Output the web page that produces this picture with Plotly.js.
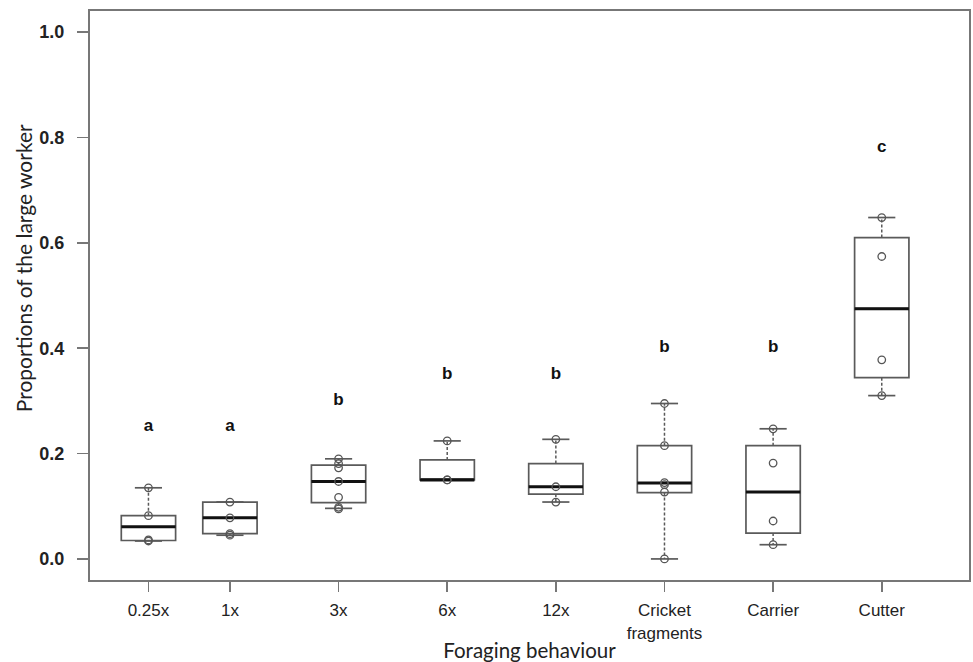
<!DOCTYPE html>
<html>
<head>
<meta charset="utf-8">
<script src="https://cdn.plot.ly/plotly-3.0.1.min.js"></script>
<style>html,body{margin:0;padding:0;background:#fff;}#chart{width:973px;height:662px;}</style>
</head>
<body>
<div id="chart"></div>
<script>
// ---- data ----
const categories = ['0.25x', '1x', '3x', '6x', '12x', 'Cricket<br>fragments', 'Carrier', 'Cutter'];
const categoryPositions = [0.25, 1, 2, 3, 4, 5, 6, 7];
const lowerWhisker = [0.034, 0.045, 0.096, 0.150, 0.108, 0.000, 0.027, 0.310];
const lowerQuartile = [0.035, 0.048, 0.107, 0.150, 0.123, 0.126, 0.049, 0.344];
const medians = [0.061, 0.078, 0.147, 0.150, 0.137, 0.144, 0.127, 0.475];
const upperQuartile = [0.082, 0.108, 0.178, 0.188, 0.181, 0.215, 0.215, 0.610];
const upperWhisker = [0.135, 0.108, 0.190, 0.224, 0.227, 0.295, 0.247, 0.648];

const points025x = [0.135, 0.082, 0.036, 0.034];
const points1x = [0.108, 0.078, 0.048, 0.045];
const points3x = [0.190, 0.181, 0.173, 0.147, 0.117, 0.098, 0.095];
const points6x = [0.224, 0.150, 0.150];
const points12x = [0.227, 0.137, 0.108];
const pointsCricket = [0.295, 0.215, 0.145, 0.141, 0.127, 0.000];
const pointsCarrier = [0.247, 0.182, 0.072, 0.027];
const pointsCutter = [0.648, 0.574, 0.378, 0.310];
const pointGroups = [points025x, points1x, points3x, points6x, points12x, pointsCricket, pointsCarrier, pointsCutter];

const groupLetters = ['a', 'a', 'b', 'b', 'b', 'b', 'b', 'c'];
const letterHeights = [0.25, 0.25, 0.30, 0.35, 0.35, 0.40, 0.40, 0.78];

const yTicks = [0, 0.2, 0.4, 0.6, 0.8, 1.0];

// ---- styling ----
const boxHalf = 0.25, capHalf = 0.125;
const grey = '#5a5a5a';
const frameGrey = '#777';

const boxTrace = {
  type: 'box', x: categoryPositions,
  q1: lowerQuartile, median: medians, q3: upperQuartile,
  lowerfence: lowerQuartile, upperfence: upperQuartile,
  width: boxHalf * 2, whiskerwidth: 0,
  fillcolor: '#ffffff', line: {color: grey, width: 1.7},
  boxpoints: false, hoverinfo: 'skip', showlegend: false
};

const wx = [], wy = [], cx = [], cy = [], mx = [], my = [];
categoryPositions.forEach((p, i) => {
  wx.push(p, p, null, p, p, null);
  wy.push(upperQuartile[i], upperWhisker[i], null, lowerQuartile[i], lowerWhisker[i], null);
  cx.push(p - capHalf, p + capHalf, null, p - capHalf, p + capHalf, null);
  cy.push(upperWhisker[i], upperWhisker[i], null, lowerWhisker[i], lowerWhisker[i], null);
  mx.push(p - boxHalf, p + boxHalf, null);
  my.push(medians[i], medians[i], null);
});

const whiskerTrace = {type: 'scatter', mode: 'lines', x: wx, y: wy, line: {color: grey, width: 1.5, dash: '3px,2px'}, hoverinfo: 'skip', showlegend: false};
const capTrace = {type: 'scatter', mode: 'lines', x: cx, y: cy, line: {color: grey, width: 1.7}, hoverinfo: 'skip', showlegend: false};
const medianTrace = {type: 'scatter', mode: 'lines', x: mx, y: my, line: {color: '#111', width: 3}, hoverinfo: 'skip', showlegend: false};

const px = [], py = [];
pointGroups.forEach((g, i) => g.forEach(v => { px.push(categoryPositions[i]); py.push(v); }));
const pointTrace = {type: 'scatter', mode: 'markers', x: px, y: py,
  marker: {symbol: 'circle-open', size: 7.5, color: '#555', line: {width: 1.3, color: '#555'}},
  hoverinfo: 'skip', showlegend: false};

const letterTrace = {type: 'scatter', mode: 'text', x: categoryPositions, y: letterHeights, text: groupLetters,
  textposition: 'middle center',
  textfont: {family: 'Liberation Sans, Arial, sans-serif', size: 17, color: '#111', weight: 'bold'},
  hoverinfo: 'skip', showlegend: false};

const layout = {
  width: 973, height: 662,
  margin: {l: 90, r: 4, t: 11, b: 82},
  paper_bgcolor: '#fff', plot_bgcolor: '#fff',
  showlegend: false,
  xaxis: {
    range: [-0.288, 7.803], tickmode: 'array', tickvals: categoryPositions, ticktext: categories,
    ticks: 'outside', ticklen: 10, tickwidth: 1.5, tickcolor: frameGrey,
    showline: true, mirror: true, linecolor: frameGrey, linewidth: 2,
    showgrid: false, zeroline: false, ticklabelstandoff: 4,
    tickfont: {family: 'Liberation Sans, Arial, sans-serif', size: 17, color: '#222'},
    title: {text: 'Foraging behaviour', font: {family: 'Lato, Open Sans, sans-serif', size: 20.5, color: '#222'}, standoff: 16}
  },
  yaxis: {
    range: [-0.04, 1.04], tickmode: 'array', tickvals: yTicks, ticktext: yTicks.map(v => v.toFixed(1)),
    ticks: 'outside', ticklen: 11, tickwidth: 1.5, tickcolor: frameGrey,
    showline: true, mirror: true, linecolor: frameGrey, linewidth: 2,
    showgrid: false, zeroline: false, ticklabelstandoff: 9,
    tickfont: {family: 'Liberation Sans, Arial, sans-serif', size: 18, color: '#222', weight: 'bold'}
  },
  annotations: [{
    text: 'Proportions of the large worker', textangle: -90,
    xref: 'paper', yref: 'paper', x: 0, y: 0.548, xanchor: 'center', yanchor: 'middle',
    xshift: -67, showarrow: false,
    font: {family: 'Lato, Open Sans, sans-serif', size: 21, color: '#222'}
  }]
};

Plotly.newPlot('chart', [boxTrace, whiskerTrace, capTrace, medianTrace, pointTrace, letterTrace], layout, {displayModeBar: false, staticPlot: true});
</script>
</body>
</html>
